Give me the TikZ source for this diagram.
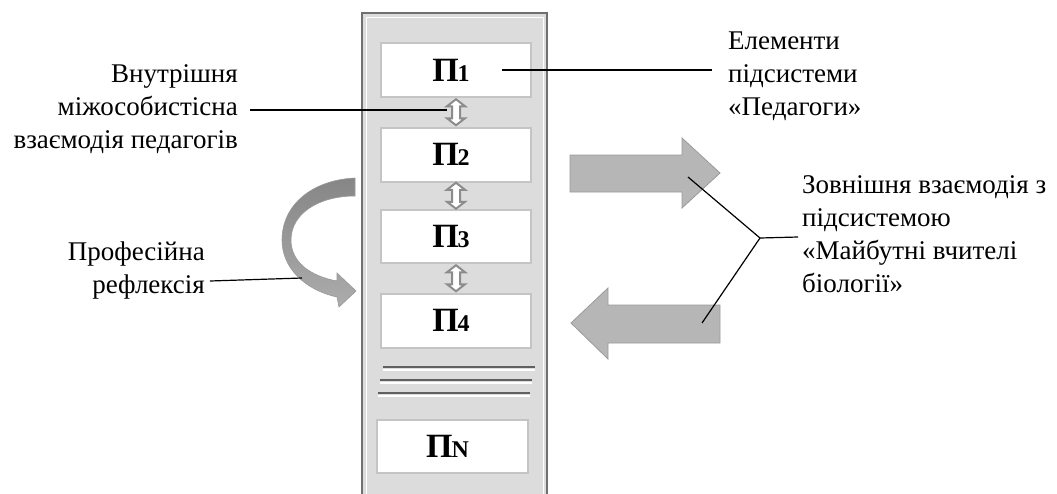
\documentclass[tikz,border=0pt]{standalone}
\usepackage{fontspec}
\setmainfont{Liberation Serif}
\newfontfamily\serifcyr{Liberation Serif}
\usetikzlibrary{calc}
\definecolor{panelfill}{HTML}{DCDCDC}
\definecolor{panelline}{HTML}{707070}
\definecolor{boxline}{HTML}{C4C4C4}
\definecolor{arrowfill}{HTML}{B6B6B6}
\definecolor{arrowline}{HTML}{9A9A9A}
\newcommand{\pl}[1]{\serifcyr\bfseries{\fontsize{34}{40}\selectfont П}\kern-1pt{\fontsize{24}{30}\selectfont #1}\hspace*{10pt}}
\tikzset{
  lbl/.style={font=\serifcyr\fontsize{27}{33}\selectfont, inner sep=0pt},
  pbox/.style={draw=boxline, line width=2pt, fill=white, minimum width=150pt, minimum height=54pt, inner sep=0pt},
  leader/.style={draw=black, line width=1.2pt},
  bigarrow/.style={fill=arrowfill, draw=arrowline, line width=0.8pt},
  dbl/.pic={\draw[fill=white, draw=gray!90, line width=2pt]
     (0,-13) -- (9,-6) -- (4,-6) -- (4,6) -- (9,6) -- (0,13) -- (-9,6) -- (-4,6) -- (-4,-6) -- (-9,-6) -- cycle;}
}
\begin{document}
\begin{tikzpicture}[x=1pt,y=-1pt]
\useasboundingbox (0,0) rectangle (1057,493);
\clip (0,0) rectangle (1057,493);
% panel
\draw[draw=panelline, line width=1.6pt, fill=panelfill] (362,13) rectangle (547,505);
\draw[draw=white, line width=1pt] (366,17) rectangle (543,505);
% boxes
\node[pbox] (p1) at (456,70) {\pl{1}};
\node[pbox] (p2) at (456,154.5) {\pl{2}};
\node[pbox, minimum height=53pt] (p3) at (456,236.5) {\pl{3}};
\node[pbox] (p4) at (456,320.5) {\pl{4}};
\node[pbox, minimum height=53pt, minimum width=151pt] (pn) at (452.5,446.5) {\pl{N}};
% double arrows
\pic at ($(p1.south)!0.5!(p2.north)$) {dbl};
\pic at ($(p2.south)!0.5!(p3.north)$) {dbl};
\pic at ($(p3.south)!0.5!(p4.north)$) {dbl};
% separator lines
\foreach \y/\xa/\xb in {367/383/535, 380/380/532, 393/378/530}{
  \draw[white, line width=2pt] (\xa,\y+2.5) -- (\xb,\y+2.5);
  \draw[gray!75!black, line width=2pt] (\xa,\y) -- (\xb,\y);
}
% big arrows
\draw[bigarrow] (570,155) -- (682,155) -- (682,138) -- (720,173) -- (682,208) -- (682,192) -- (570,192) -- cycle;
\draw[bigarrow] (720,305) -- (608,305) -- (608,288) -- (571,323) -- (608,359) -- (608,343) -- (720,343) -- cycle;
% curved arrow
\shade[top color=gray!95, bottom color=gray!65, draw=gray!80, line width=0.6pt]
  (355,178) .. controls (312,180) and (282,205) .. (282,240)
  .. controls (282,268) and (305,290) .. (337,297)
  -- (339,307) -- (356,291) -- (337,273) -- (337,281)
  .. controls (310,276) and (291,262) .. (291,240)
  .. controls (291,214) and (318,196) .. (355,196) -- cycle;
% labels (base anchor = baseline of last line)
\node[lbl, anchor=base east, align=right] (tin) at (238,148) {Внутрішня\\міжособистісна\\взаємодія педагогів};
\node[lbl, anchor=base west, align=left] (tel) at (728,115) {Елементи\\підсистеми\\«Педагоги»};
\node[lbl, anchor=base east, align=right] (tpr) at (205,293) {Професійна\\рефлексія};
\node[lbl, anchor=base west, align=left] (tzo) at (802,292) {Зовнішня взаємодія з\\підсистемою\\«Майбутні вчителі\\біології»};
% leader lines
\coordinate (c-in-a) at (250,110);
\coordinate (c-in-b) at (447,110);
\draw[leader] (c-in-a) -- (c-in-b);
\coordinate (c-el-a) at (502,70);
\coordinate (c-el-b) at (712,70);
\draw[leader] (c-el-a) -- (c-el-b);
\coordinate (c-pr-a) at (210,281);
\coordinate (c-pr-b) at (302,278);
\draw[leader] (c-pr-a) -- (c-pr-b);
\coordinate (j) at (760,238);
\coordinate (c-zo) at (798,237);
\coordinate (c-up) at (688,177);
\coordinate (c-dn) at (702,323);
\draw[leader] (c-up) -- (j) -- (c-zo);
\draw[leader] (c-dn) -- (j);
\end{tikzpicture}
\end{document}
